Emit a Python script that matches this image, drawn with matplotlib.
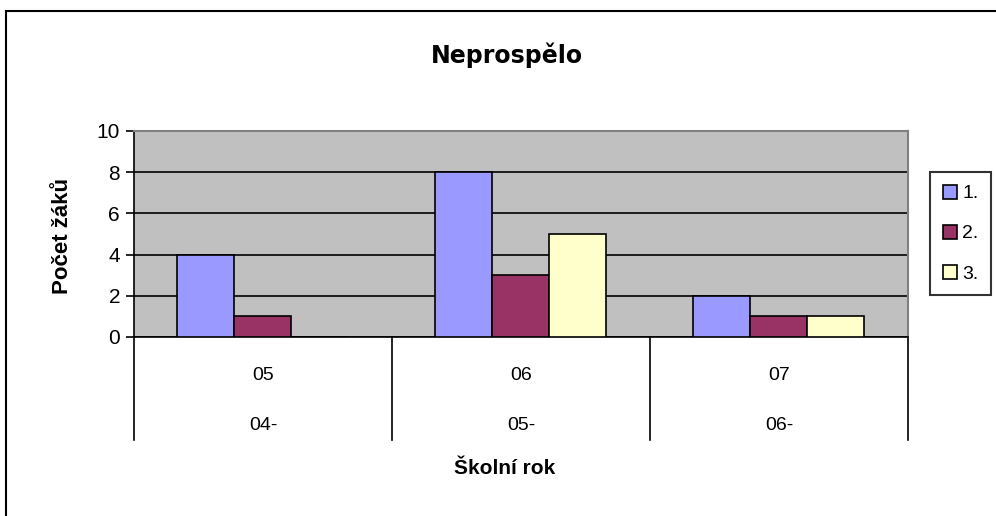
import matplotlib.pyplot as plt
import matplotlib.patches as mpatches
import matplotlib.transforms as mtransforms
import numpy as np

plt.rcParams['font.family'] = ['Liberation Sans', 'DejaVu Sans']

# data
roky_horni = ['05', '06', '07']
roky_dolni = ['04-', '05-', '06-']
serie = ['1.', '2.', '3.']
hodnoty_1 = [4, 8, 2]
hodnoty_2 = [1, 3, 1]
hodnoty_3 = [0, 5, 1]
barvy = ['#9999FF', '#993366', '#FFFFCC']

fig = plt.figure(figsize=(9.96, 5.16), dpi=100)
ax = fig.add_axes([134 / 996, 1 - 337 / 516, 774 / 996, 206 / 516])
ax.set_facecolor('#C0C0C0')

x = np.arange(len(roky_horni))
sirka = 0.221
start = 0.167
for i, (vals, barva, nazev) in enumerate(zip([hodnoty_1, hodnoty_2, hodnoty_3], barvy, serie)):
    pos = x + start + i * sirka
    ax.bar(pos, vals, width=sirka, align='edge', color=barva, edgecolor='black',
           linewidth=1.2, label=nazev, zorder=3)

ax.set_xlim(0, 3)
ax.set_ylim(0, 10)
ax.set_yticks(range(0, 11, 2))
ax.yaxis.grid(True, color='black', linewidth=1.2, zorder=0)
ax.set_axisbelow(True)
ax.tick_params(axis='y', direction='out', length=6, labelsize=15, width=1.2, pad=4)
ax.set_xticks([])

for s in ['top', 'right']:
    ax.spines[s].set_color('#808080')
    ax.spines[s].set_linewidth(1.5)
for s in ['left', 'bottom']:
    ax.spines[s].set_color('black')
    ax.spines[s].set_linewidth(1.2)

# kategoriové popisky a oddělovače pod osou
trans = mtransforms.blended_transform_factory(ax.transData, ax.transAxes)
for xi in range(len(roky_horni) + 1):
    ax.plot([xi, xi], [0, -0.5], color='black', linewidth=1.2, transform=trans, clip_on=False)
for xi, (h, d) in enumerate(zip(roky_horni, roky_dolni)):
    ax.text(xi + 0.5, -38 / 206, h, transform=trans, ha='center', va='center', fontsize=14)
    ax.text(xi + 0.5, -89 / 206, d, transform=trans, ha='center', va='center', fontsize=14)

fig.text(505 / 996, 1 - 468 / 516, 'Školní rok', ha='center', va='center',
         fontsize=15, fontweight='bold')
fig.text(62 / 996, 1 - 236 / 516, 'Počet žáků', ha='center', va='center',
         fontsize=16, fontweight='bold', rotation=90)
fig.text(507 / 996, 1 - 55 / 516, 'Neprospělo', ha='center', va='center',
         fontsize=17, fontweight='bold', family=['DejaVu Sans'])

leg = fig.legend(loc='upper left', bbox_to_anchor=(930 / 996, 1 - 172 / 516),
                 frameon=True, fancybox=False, edgecolor='black', fontsize=14,
                 handlelength=0.72, handleheight=0.72, handletextpad=0.3,
                 labelspacing=1.15, borderpad=0.65, borderaxespad=0)
leg.get_frame().set_linewidth(1.5)

# rámeček grafu
fig.patches.append(mpatches.Rectangle((6 / 996, -0.1), 1.2, 1 - 11 / 516 + 0.1,
                                      transform=fig.transFigure, fill=False,
                                      edgecolor='black', linewidth=1.5))

fig.savefig('out.png', dpi=100)
